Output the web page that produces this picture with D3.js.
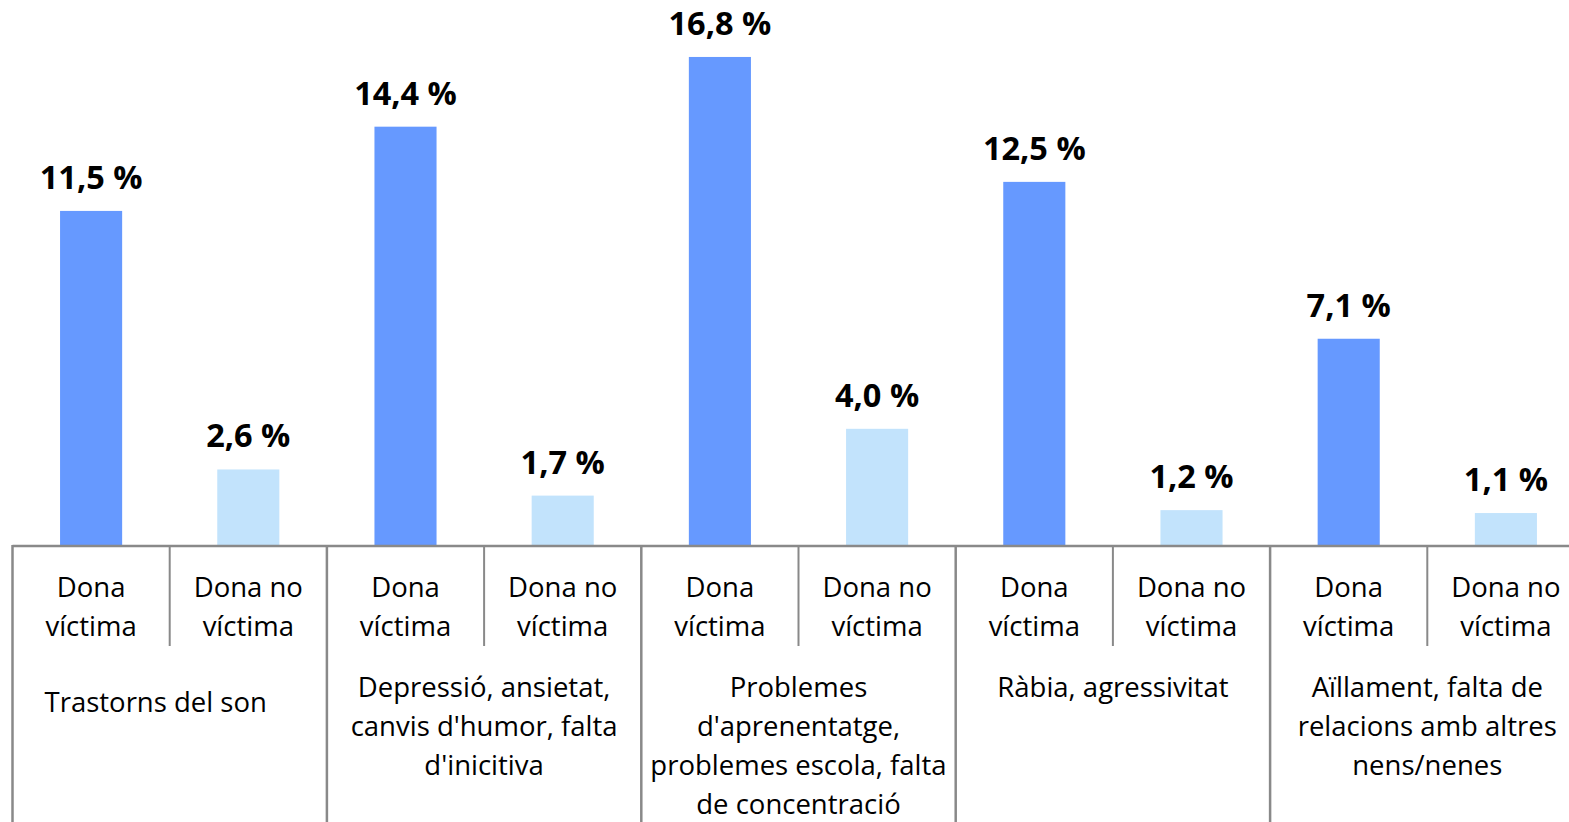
<!DOCTYPE html>
<html>
<head>
<meta charset="utf-8">
<script src="https://cdn.jsdelivr.net/npm/d3@7"></script>
<style>
  body { margin: 0; background: #fff; }
  svg { display: block; font-family: "Open Sans", sans-serif; }
</style>
</head>
<body>
<script>
// categories (groups) and their label lines
let groups = ["son", "depre", "aprendre", "rabia", "aillament"];
let groupLabels = [
  ["Trastorns del son"],
  ["Depressió, ansietat,", "canvis d'humor, falta", "d'inicitiva"],
  ["Problemes", "d'aprenentatge,", "problemes escola, falta", "de concentració"],
  ["Ràbia, agressivitat"],
  ["Aïllament, falta de", "relacions amb altres", "nens/nenes"]
];
let subs = ["victima", "novictima"];
let subLabels = [["Dona", "víctima"], ["Dona no", "víctima"]];

// values in %
let victima = [11.5, 14.4, 16.8, 12.5, 7.1];
let noVictima = [2.6, 1.7, 4.0, 1.2, 1.1];

let width = 1569, height = 822;
let baseY = 545;

let svg = d3.select("body")
  .append("svg")
  .attr("width", width)
  .attr("height", height);

// group scale, runs a bit past the right edge like the original
let xgroup = d3.scaleBand()
  .domain(groups)
  .range([12.5, 1584.5])
  .padding(0);

let xsub = d3.scaleBand()
  .domain(subs)
  .range([0, xgroup.bandwidth()])
  .padding(0);

let barW = xsub.bandwidth() * 0.395;

let yscale = d3.scaleLinear()
  .domain([0, 18])
  .range([baseY, baseY - 18 * 29.05]);

let colors = { victima: "#6699ff", novictima: "#c2e3fc" };

// flatten data
let rows = [];
groups.forEach((g, i) => {
  rows.push({ g: g, s: "victima", v: victima[i] });
  rows.push({ g: g, s: "novictima", v: noVictima[i] });
});

let fmt = v => d3.format(".1f")(v).replace(".", ",") + " %";

// bars
svg.selectAll("rect.bar")
  .data(rows)
  .enter()
  .append("rect")
    .attr("class", "bar")
    .attr("x", d => xgroup(d.g) + xsub(d.s) + (xsub.bandwidth() - barW) / 2)
    .attr("y", d => yscale(d.v))
    .attr("width", barW)
    .attr("height", d => baseY - yscale(d.v))
    .style("fill", d => colors[d.s]);

// value labels
svg.selectAll("text.val")
  .data(rows)
  .enter()
  .append("text")
    .attr("class", "val")
    .attr("x", d => xgroup(d.g) + xsub(d.s) + xsub.bandwidth() / 2)
    .attr("y", d => yscale(d.v) - 22)
    .attr("text-anchor", "middle")
    .style("font-weight", "bold")
    .style("font-size", "32.5px")
    .style("fill", "#000")
    .text(d => fmt(d.v));

// axis line
let lineColor = "#898989";
svg.append("line")
  .attr("x1", 12.5).attr("x2", width)
  .attr("y1", baseY + 1).attr("y2", baseY + 1)
  .style("stroke", lineColor).style("stroke-width", 2.5);

// group boundary lines (full height)
svg.selectAll("line.gtick")
  .data(groups)
  .enter()
  .append("line")
    .attr("class", "gtick")
    .attr("x1", d => xgroup(d)).attr("x2", d => xgroup(d))
    .attr("y1", baseY).attr("y2", height)
    .style("stroke", lineColor).style("stroke-width", 2.5);

// sub boundary lines (short)
svg.selectAll("line.stick")
  .data(groups)
  .enter()
  .append("line")
    .attr("class", "stick")
    .attr("x1", d => xgroup(d) + xsub("novictima")).attr("x2", d => xgroup(d) + xsub("novictima"))
    .attr("y1", baseY).attr("y2", 646)
    .style("stroke", lineColor).style("stroke-width", 2);

// sub labels
let subRows = [];
groups.forEach(g => subs.forEach((s, j) => subRows.push({ g: g, s: s, lines: subLabels[j] })));

let st = svg.selectAll("text.sub")
  .data(subRows)
  .enter()
  .append("text")
    .attr("class", "sub")
    .attr("text-anchor", "middle")
    .style("font-size", "27.5px")
    .style("fill", "#000");
st.selectAll("tspan")
  .data(d => d.lines.map(l => ({ d: d, l: l })))
  .enter()
  .append("tspan")
    .attr("x", t => xgroup(t.d.g) + xsub(t.d.s) + xsub.bandwidth() / 2)
    .attr("y", (t, i) => 597 + i * 39)
    .text(t => t.l);

// group labels
let gt = svg.selectAll("text.grp")
  .data(groups)
  .enter()
  .append("text")
    .attr("class", "grp")
    .attr("text-anchor", "middle")
    .style("font-size", "27.5px")
    .style("fill", "#000");
gt.selectAll("tspan")
  .data((g, i) => groupLabels[i].map(l => ({ g: g, l: l, first: i === 0 })))
  .enter()
  .append("tspan")
    .attr("x", t => xgroup(t.g) + xgroup.bandwidth() / 2 - (t.first ? 14 : 0))
    .attr("y", (t, i) => 697 + i * 39 + (t.first ? 15 : 0))
    .text(t => t.l);
</script>
</body>
</html>
